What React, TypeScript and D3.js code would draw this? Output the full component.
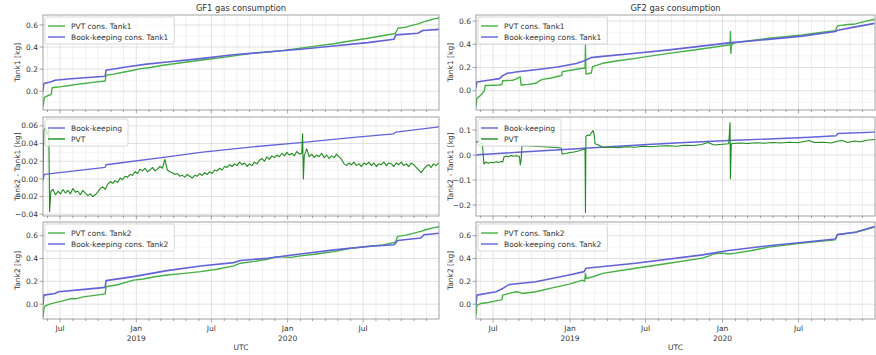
import React from 'react';
import * as d3 from 'd3';

// time axis: day offsets counted from T0
const T0 = new Date(2018, 4, 21);
const T1 = new Date(2020, 11, 31);

type Pt = [number, number];

// ---- GF1 ----
const gf1Tank1Pvt: Pt[] = [[0,-0.145],[3,-0.06],[6,-0.05],[15,-0.036],[20,-0.03],[22,0.032],[30,0.036],[45,0.042],[60,0.05],[82,0.062],[100,0.07],[120,0.08],[145,0.09],[150,0.092],[152,0.145],[170,0.155],[190,0.17],[218,0.19],[235,0.205],[259,0.215],[290,0.235],[338,0.26],[380,0.28],[421,0.3],[469,0.325],[500,0.34],[541,0.355],[580,0.37],[621,0.39],[660,0.41],[701,0.43],[740,0.455],[783,0.48],[815,0.5],[846,0.52],[850,0.525],[856,0.57],[875,0.58],[894,0.6],[905,0.61],[919,0.63],[930,0.64],[943,0.655],[957,0.665]];
const gf1Tank1Book: Pt[] = [[0,0.0],[2,0.07],[20,0.085],[29,0.1],[60,0.11],[100,0.122],[150,0.136],[152,0.19],[200,0.22],[250,0.245],[300,0.265],[380,0.295],[459,0.33],[540,0.355],[621,0.38],[700,0.41],[783,0.44],[846,0.47],[851,0.51],[904,0.525],[916,0.55],[957,0.56]];

const gf1DiffBook: Pt[] = [[0,-0.002],[3,0.005],[150,0.013],[152,0.016],[300,0.025],[380,0.03],[500,0.036],[621,0.041],[750,0.047],[846,0.051],[851,0.053],[957,0.059]];
// PVT difference sampled every 6 days from day 24, plus the spikes
const gf1DiffPvtStart = 24;
const gf1DiffPvtStep = 6;
const gf1DiffPvtValues = [
  -0.012,-0.018,-0.014,-0.017,-0.012,-0.016,
  -0.013,-0.017,-0.011,-0.015,-0.014,-0.018,-0.013,-0.016,-0.019,-0.017,
  -0.020,-0.018,-0.015,-0.011,-0.009,-0.012,-0.006,-0.003,-0.005,-0.002,
  -0.004,0.001,-0.001,0.003,0.002,0.005,0.004,0.008,0.006,0.011,
  0.009,0.012,0.008,0.010,0.013,0.009,0.011,0.014,0.012,0.022,
  0.010,0.008,0.007,0.005,0.006,0.003,0.004,0.002,0.005,0.003,
  0.001,0.004,0.003,0.006,0.004,0.007,0.005,0.008,0.006,0.010,
  0.009,0.012,0.010,0.014,0.013,0.016,0.014,0.017,0.015,0.019,
  0.016,0.018,0.014,0.017,0.015,0.019,0.017,0.021,0.023,0.020,
  0.025,0.022,0.026,0.024,0.027,0.025,0.029,0.026,0.030,0.027,
  0.029,0.026,0.031,0.028,0.029,0.026,0.034,0.025,0.028,0.024,
  0.027,0.025,0.029,0.024,0.027,0.023,0.026,0.024,0.028,0.025,
  0.022,0.017,0.015,0.018,0.016,0.019,0.015,0.017,0.014,0.018,
  0.016,0.019,0.015,0.018,0.014,0.017,0.016,0.019,0.015,0.018,
  0.017,0.014,0.018,0.016,0.019,0.015,0.017,0.014,0.018,0.016,
  0.013,0.010,0.007,0.011,0.014,0.016,0.013,0.017,0.015,0.018,
];
const gf1DiffPvtSpikes: Pt[] = [[0,0.0],[2,0.055],[6,0.058],[10,0.05],[14,0.056],[16,-0.037],[19,-0.014],[626,0.051],[628,0.0]];

const gf1Tank2Pvt: Pt[] = [[0,-0.112],[3,-0.023],[9,-0.009],[20,0.005],[37,0.02],[55,0.035],[69,0.05],[80,0.048],[97,0.064],[120,0.075],[146,0.088],[150,0.09],[152,0.153],[180,0.17],[218,0.211],[242,0.22],[270,0.24],[299,0.256],[340,0.27],[380,0.285],[420,0.306],[460,0.335],[476,0.359],[510,0.375],[541,0.394],[565,0.417],[597,0.41],[621,0.423],[660,0.44],[702,0.46],[742,0.49],[782,0.505],[820,0.52],[847,0.54],[850,0.545],[855,0.594],[875,0.605],[895,0.623],[911,0.638],[923,0.652],[940,0.668],[957,0.68]];
const gf1Tank2Book: Pt[] = [[0,-0.01],[2,0.079],[29,0.094],[37,0.109],[100,0.13],[150,0.147],[152,0.206],[218,0.241],[299,0.294],[380,0.335],[460,0.364],[476,0.382],[541,0.403],[621,0.44],[702,0.476],[782,0.505],[847,0.52],[855,0.558],[911,0.58],[919,0.608],[958,0.623]];

// ---- GF2 ----
const gf2Tank1Pvt: Pt[] = [[0,-0.138],[2,-0.066],[12,-0.037],[20,0.0],[22,0.045],[40,0.047],[56,0.049],[62,0.055],[64,0.086],[88,0.09],[95,0.1],[103,0.115],[106,0.118],[108,0.049],[125,0.055],[143,0.064],[150,0.08],[159,0.098],[180,0.11],[199,0.127],[205,0.13],[207,0.164],[230,0.178],[255,0.193],[261,0.195],[262,0.394],[263,0.144],[272,0.15],[276,0.152],[279,0.207],[303,0.236],[340,0.258],[382,0.279],[420,0.3],[462,0.322],[530,0.355],[605,0.394],[608,0.395],[609,0.51],[610,0.322],[612,0.4],[621,0.414],[660,0.432],[701,0.452],[740,0.465],[781,0.48],[820,0.5],[860,0.517],[865,0.558],[890,0.57],[908,0.575],[930,0.595],[954,0.615]];
const gf2Tank1Book: Pt[] = [[0,0.02],[2,0.075],[30,0.09],[56,0.104],[64,0.13],[75,0.15],[100,0.163],[143,0.18],[195,0.204],[240,0.235],[258,0.255],[262,0.262],[275,0.285],[303,0.296],[382,0.323],[462,0.352],[530,0.38],[605,0.412],[700,0.442],[781,0.47],[860,0.51],[866,0.52],[908,0.55],[954,0.58]];

const gf2DiffBook: Pt[] = [[0,-0.003],[4,0.001],[100,0.011],[200,0.021],[300,0.031],[400,0.041],[500,0.05],[620,0.059],[700,0.064],[800,0.071],[862,0.077],[866,0.086],[957,0.092]];
const gf2DiffPvt: Pt[] = [[0,0.055],[2,0.05],[6,0.058],[12,0.045],[15,0.048],[19,-0.036],[24,-0.028],[30,-0.033],[36,-0.029],[42,-0.031],[48,-0.027],[54,-0.03],[60,-0.026],[64,-0.028],[67,-0.008],[72,-0.004],[78,-0.007],[84,-0.002],[90,-0.005],[96,-0.003],[104,-0.006],[106,-0.04],[108,-0.02],[110,0.038],[130,0.036],[150,0.034],[170,0.032],[190,0.03],[204,0.028],[206,0.004],[215,0.006],[225,0.01],[235,0.012],[245,0.016],[251,0.02],[258,0.022],[261,0.024],[262,-0.23],[263,0.075],[268,0.08],[272,0.078],[276,0.088],[280,0.098],[283,0.08],[285,0.045],[290,0.042],[296,0.038],[303,0.03],[320,0.032],[340,0.029],[360,0.033],[380,0.031],[400,0.035],[420,0.033],[440,0.036],[462,0.037],[480,0.035],[500,0.039],[520,0.038],[540,0.042],[555,0.05],[570,0.04],[590,0.043],[605,0.045],[608,0.13],[609,-0.095],[611,0.045],[630,0.048],[650,0.046],[670,0.049],[690,0.047],[710,0.05],[730,0.048],[750,0.051],[770,0.049],[785,0.054],[797,0.058],[810,0.05],[830,0.051],[850,0.048],[865,0.055],[876,0.058],[890,0.05],[905,0.056],[920,0.053],[935,0.059],[955,0.062]];

const gf2Tank2Pvt: Pt[] = [[0,-0.097],[2,-0.01],[12,0.006],[30,0.015],[48,0.029],[56,0.035],[62,0.04],[64,0.079],[80,0.094],[96,0.109],[103,0.105],[110,0.094],[143,0.109],[180,0.14],[223,0.176],[255,0.21],[260,0.2],[262,0.27],[264,0.225],[280,0.24],[303,0.27],[382,0.315],[462,0.359],[542,0.403],[560,0.425],[568,0.44],[590,0.447],[605,0.44],[621,0.447],[660,0.47],[701,0.5],[781,0.535],[860,0.565],[865,0.609],[908,0.63],[935,0.655],[954,0.675]];
const gf2Tank2Book: Pt[] = [[0,-0.01],[2,0.079],[48,0.109],[64,0.138],[80,0.173],[143,0.197],[223,0.256],[259,0.285],[263,0.315],[382,0.359],[542,0.432],[605,0.47],[701,0.512],[860,0.571],[865,0.609],[908,0.63],[954,0.68]];

const tankTicks = [0, 0.2, 0.4, 0.6];
const gf1DiffTicks = [-0.04, -0.02, 0, 0.02, 0.04, 0.06];
const gf2DiffTicks = [-0.2, -0.1, 0, 0.1];

const gf1DiffPvt: Pt[] = gf1DiffPvtValues
  .map((v, i): Pt => [gf1DiffPvtStart + i * gf1DiffPvtStep, v])
  .concat(gf1DiffPvtSpikes)
  .sort((a, b) => a[0] - b[0]);

const FONT = '"DejaVu Sans", Verdana, sans-serif';
const BLUE = '#6262da';
const GREEN = '#46b046';
const DARK_GREEN = '#1f8c1f';
const fmt1 = (v: number) => d3.format('.1f')(v).replace('-', '\u2212');
const fmt2 = (v: number) => d3.format('.2f')(v).replace('-', '\u2212');

let ctx: CanvasRenderingContext2D | null = null;
function textWidth(s: string, size: number) {
  if (!ctx) ctx = document.createElement('canvas').getContext('2d');
  if (!ctx) return s.length * size * 0.58;
  ctx.font = `${size}px "DejaVu Sans"`;
  return ctx.measureText(s).width;
}

type Series = { data: Pt[]; color: string; width: number; label: string };

function Panel(props: {
  id: string; left: number; top: number; width: number; height: number;
  yDomain: [number, number]; yTicks: number[]; yFmt: (v: number) => string;
  yLabel: string; series: Series[]; title?: string; xLabels?: boolean;
}) {
  const { id, left, top, width, height, yDomain, yTicks, yFmt, yLabel, series, title, xLabels } = props;
  const bottom = top + height;
  const x = d3.scaleTime().domain([T0, T1]).range([left, left + width]);
  const y = d3.scaleLinear().domain(yDomain).range([bottom, top]);
  const months = d3.timeMonth.range(d3.timeMonth.ceil(T0), T1);
  const step = yTicks[1] - yTicks[0];
  const minorY = d3.range(yTicks[0] - step * 1.5, yTicks[yTicks.length - 1] + step * 2, step)
    .filter((v) => v > yDomain[0] && v < yDomain[1]);
  const line = d3.line<Pt>().x((d) => x(d3.timeDay.offset(T0, d[0]))).y((d) => y(d[1]));
  const fs = 7.5;
  const legendW = 32 + d3.max(series, (s) => textWidth(s.label, fs))!;

  return (
    <g>
      <defs>
        <clipPath id={id}><rect x={left} y={top} width={width} height={height} /></clipPath>
      </defs>
      {minorY.map((v) => (
        <line key={'my' + v} x1={left} x2={left + width} y1={y(v)} y2={y(v)} stroke="#efefef" strokeWidth={0.6} />
      ))}
      {months.map((m) => (
        <line key={'mx' + +m} x1={x(m)} x2={x(m)} y1={top} y2={bottom}
          stroke={m.getMonth() % 6 === 0 ? '#d6d6d6' : '#e8e8e8'} strokeWidth={0.7} />
      ))}
      {yTicks.map((v) => (
        <line key={'gy' + v} x1={left} x2={left + width} y1={y(v)} y2={y(v)} stroke="#d6d6d6" strokeWidth={0.7} />
      ))}
      <g clipPath={`url(#${id})`}>
        {series.map((s) => (
          <path key={s.label} d={line(s.data) ?? ''} fill="none" stroke={s.color} strokeWidth={s.width} strokeLinejoin="round" />
        ))}
      </g>
      <rect x={left} y={top} width={width} height={height} fill="none" stroke="#8c8c8c" strokeWidth={0.8} />
      {months.map((m) => (
        <line key={'tx' + +m} x1={x(m)} x2={x(m)} y1={bottom} y2={bottom + (m.getMonth() % 6 === 0 ? 3.5 : 2)} stroke="#666" strokeWidth={0.6} />
      ))}
      {yTicks.map((v) => (
        <g key={'ty' + v}>
          <line x1={left - 3.5} x2={left} y1={y(v)} y2={y(v)} stroke="#666" strokeWidth={0.6} />
          <text x={left - 5} y={y(v)} dy="0.35em" textAnchor="end" fontSize={fs} fill="#333">{yFmt(v)}</text>
        </g>
      ))}
      <text transform={`translate(${left - 23},${(top + bottom) / 2}) rotate(-90)`} textAnchor="middle" fontSize={fs} fill="#333">{yLabel}</text>
      {title && <text x={left + width / 2} y={top - 4} textAnchor="middle" fontSize={8.3} fill="#333">{title}</text>}
      {xLabels && months.filter((m) => m.getMonth() % 6 === 0).map((m) => (
        <text key={'lx' + +m} x={x(m)} y={bottom + 12} textAnchor="middle" fontSize={fs} fill="#333">
          {m.getMonth() === 6 ? 'Jul' : 'Jan'}
          {m.getMonth() === 0 && <tspan x={x(m)} dy="1.3em">{m.getFullYear()}</tspan>}
        </text>
      ))}
      {xLabels && <text x={left + width / 2} y={bottom + 31} textAnchor="middle" fontSize={fs} fill="#333">UTC</text>}
      <rect x={left + 2} y={top + 2} width={legendW} height={27} rx={2} fill="#fff" fillOpacity={0.8} stroke="#cfcfcf" strokeWidth={0.8} />
      {series.map((s, i) => (
        <g key={'lg' + s.label}>
          <line x1={left + 5} x2={left + 22} y1={top + 11 + i * 11} y2={top + 11 + i * 11} stroke={s.color} strokeWidth={1.4} />
          <text x={left + 28} y={top + 11 + i * 11} dy="0.35em" fontSize={fs} fill="#333">{s.label}</text>
        </g>
      ))}
    </g>
  );
}

export default function App() {
  const L = [43, 396];
  const R = [476, 399];
  const rows = [[15, 95], [117, 99], [222, 97]];
  return (
    <svg width={876} height={355} fontFamily={FONT} style={{ position: 'absolute', left: 0, top: 0, background: '#fff' }}>
      <Panel id="c1" left={L[0]} width={L[1]} top={rows[0][0]} height={rows[0][1]} yDomain={[-0.17, 0.69]} yTicks={tankTicks} yFmt={fmt1}
        yLabel="Tank1 [kg]" title="GF1 gas consumption"
        series={[{ data: gf1Tank1Pvt, color: GREEN, width: 1.4, label: 'PVT cons. Tank1' }, { data: gf1Tank1Book, color: BLUE, width: 1.6, label: 'Book-keeping cons. Tank1' }]} />
      <Panel id="c2" left={L[0]} width={L[1]} top={rows[1][0]} height={rows[1][1]} yDomain={[-0.042, 0.07]} yTicks={gf1DiffTicks} yFmt={fmt2}
        yLabel="Tank2 - Tank1 [kg]"
        series={[{ data: gf1DiffBook, color: BLUE, width: 1.3, label: 'Book-keeping' }, { data: gf1DiffPvt, color: DARK_GREEN, width: 1.1, label: 'PVT' }]} />
      <Panel id="c3" left={L[0]} width={L[1]} top={rows[2][0]} height={rows[2][1]} yDomain={[-0.13, 0.72]} yTicks={tankTicks} yFmt={fmt1}
        yLabel="Tank2 [kg]" xLabels
        series={[{ data: gf1Tank2Pvt, color: GREEN, width: 1.4, label: 'PVT cons. Tank2' }, { data: gf1Tank2Book, color: BLUE, width: 1.6, label: 'Book-keeping cons. Tank2' }]} />
      <Panel id="c4" left={R[0]} width={R[1]} top={rows[0][0]} height={rows[0][1]} yDomain={[-0.166, 0.652]} yTicks={tankTicks} yFmt={fmt1}
        yLabel="Tank1 [kg]" title="GF2 gas consumption"
        series={[{ data: gf2Tank1Pvt, color: GREEN, width: 1.4, label: 'PVT cons. Tank1' }, { data: gf2Tank1Book, color: BLUE, width: 1.6, label: 'Book-keeping cons. Tank1' }]} />
      <Panel id="c5" left={R[0]} width={R[1]} top={rows[1][0]} height={rows[1][1]} yDomain={[-0.244, 0.152]} yTicks={gf2DiffTicks} yFmt={fmt1}
        yLabel="Tank2 - Tank1 [kg]"
        series={[{ data: gf2DiffBook, color: BLUE, width: 1.3, label: 'Book-keeping' }, { data: gf2DiffPvt, color: DARK_GREEN, width: 1.1, label: 'PVT' }]} />
      <Panel id="c6" left={R[0]} width={R[1]} top={rows[2][0]} height={rows[2][1]} yDomain={[-0.13, 0.72]} yTicks={tankTicks} yFmt={fmt1}
        yLabel="Tank2 [kg]" xLabels
        series={[{ data: gf2Tank2Pvt, color: GREEN, width: 1.4, label: 'PVT cons. Tank2' }, { data: gf2Tank2Book, color: BLUE, width: 1.6, label: 'Book-keeping cons. Tank2' }]} />
    </svg>
  );
}
